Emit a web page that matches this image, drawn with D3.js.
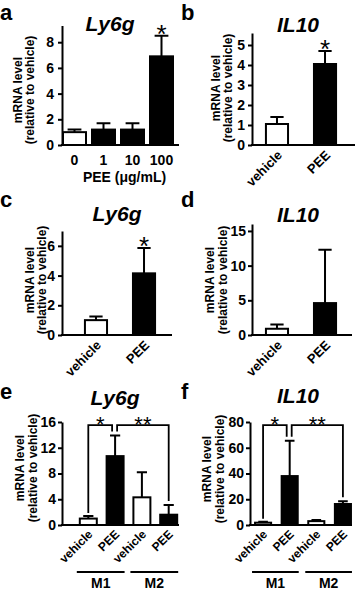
<!DOCTYPE html>
<html>
<head>
<meta charset="utf-8">
<script src="https://cdn.jsdelivr.net/npm/d3@7"></script>
<style>
  body { margin: 0; background: #fff; }
  svg { display: block; font-family: "Liberation Sans", Arial, sans-serif; }
</style>
</head>
<body>
<svg id="chart" width="358" height="590"></svg>
<script>
// Data (mean and SD, relative to vehicle)
const aCategories = ["0", "1", "10", "100"];
const aMeans = [1.0, 1.2, 1.2, 6.9];
const aSD = [0.2, 0.5, 0.5, 1.6];
const aTicks = [0, 2, 4, 6, 8];

const bCategories = ["vehicle", "PEE"];
const bMeans = [1.05, 4.05];
const bSD = [0.35, 0.65];
const bTicks = [0, 1, 2, 3, 4, 5];

const cCategories = ["vehicle", "PEE"];
const cMeans = [1.0, 4.15];
const cSD = [0.25, 1.7];
const cTicks = [0, 2, 4, 6];

const dCategories = ["vehicle", "PEE"];
const dMeans = [0.9, 4.6];
const dSD = [0.6, 7.7];
const dTicks = [0, 5, 10, 15];

const eCategories = ["vehicle", "PEE", "vehicle", "PEE"];
const eGroups = ["M1", "M1", "M2", "M2"];
const eMeans = [1.0, 10.7, 4.3, 1.6];
const eSD = [0.4, 3.2, 3.9, 1.5];
const eTicks = [0, 4, 8, 12, 16];

const fCategories = ["vehicle", "PEE", "vehicle", "PEE"];
const fGroups = ["M1", "M1", "M2", "M2"];
const fMeans = [1.8, 38, 3.0, 16.3];
const fSD = [0.7, 27.5, 0.8, 2.2];
const fTicks = [0, 20, 40, 60, 80];

// significance: single stars above bars, brackets between bars
const aStars = [3];
const bStars = [1];
const cStars = [1];
const eBrackets = [[0, 1, "*"], [1, 3, "**"]];
const fBrackets = [[0, 1, "*"], [1, 3, "**"]];

const yLabel1 = "mRNA level";
const yLabel2 = "(relative to vehicle)";

const svg = d3.select("#chart");

// layout for each panel
const panels = [
    { letter: "a", lx: 0, ly: 20, title: "Ly6g", tx: 110, ty: 31,
      cats: aCategories, means: aMeans, sd: aSD, ticks: aTicks, stars: aStars,
      axisX: 62, xEnd: 179, y0: 145, yMax: 9.3, yTop: 25.5, tickPad: 4,
      band: [57, 179], pad: 0.207, labX: [22, 34], labY: 90, rotate: false,
      xTitle: "PEE (\u03bcg/mL)" },
    { letter: "b", lx: 181, ly: 20, title: "IL10", tx: 298, ty: 32,
      cats: bCategories, means: bMeans, sd: bSD, ticks: bTicks, stars: bStars,
      axisX: 252, xEnd: 355, y0: 145, yMax: 5.6, yTop: 33, tickPad: 3,
      band: [240, 362], pad: 0.54, labX: [220, 232], labY: 88, rotate: true },
    { letter: "c", lx: 0, ly: 207, title: "Ly6g", tx: 117, ty: 221,
      cats: cCategories, means: cMeans, sd: cSD, ticks: cTicks, stars: cStars,
      axisX: 62, xEnd: 172, y0: 335, yMax: 7, yTop: 231, tickPad: 3,
      band: [59, 181], pad: 0.54, labX: [34, 46], labY: 280, rotate: true },
    { letter: "d", lx: 181, ly: 207, title: "IL10", tx: 298, ty: 222,
      cats: dCategories, means: dMeans, sd: dSD, ticks: dTicks, stars: [],
      axisX: 252, xEnd: 352, y0: 335, yMax: 16, yTop: 224, tickPad: 2,
      band: [240, 362], pad: 0.54, labX: [214, 227], labY: 280, rotate: true },
    { letter: "e", lx: 0, ly: 399, title: "Ly6g", tx: 115, ty: 405,
      cats: eCategories, groups: eGroups, means: eMeans, sd: eSD, ticks: eTicks,
      stars: [], brackets: eBrackets, bracketVal: 15.5, starSize: 22,
      axisX: 62, xEnd: 179, y0: 525, yMax: 16, yTop: 422, tickPad: 2,
      band: [70, 187], pad: 0.366, labX: [24, 37], labY: 468, rotate: true, small: true },
    { letter: "f", lx: 181, ly: 399, title: "IL10", tx: 298, ty: 403,
      cats: fCategories, groups: fGroups, means: fMeans, sd: fSD, ticks: fTicks,
      stars: [], brackets: fBrackets, bracketVal: 77.5, starSize: 22,
      axisX: 250, xEnd: 352, y0: 525, yMax: 80, yTop: 422, tickPad: 2,
      band: [244.5, 361.5], pad: 0.396, labX: [211, 224], labY: 469, rotate: true, small: true }
];

panels.forEach(p => drawPanel(p));

function isControl(cat) {
    return cat === "vehicle" || cat === "0";
}

function drawPanel(p) {
    const g = svg.append("g");
    const idx = p.cats.map((c, i) => i);

    // scales
    const x = d3.scaleBand().domain(idx).range(p.band).padding(p.pad);
    const y = d3.scaleLinear().domain([0, p.yMax]).range([p.y0, p.yTop]);
    const bw = x.bandwidth();
    const cx = i => x(i) + bw / 2;

    // panel letter and title
    g.append("text")
        .attr("x", p.lx).attr("y", p.ly)
        .style("font-size", "22px").style("font-weight", "bold")
        .text(p.letter);
    g.append("text")
        .attr("x", p.tx).attr("y", p.ty)
        .attr("text-anchor", "middle")
        .style("font-size", "21px").style("font-weight", "bold").style("font-style", "italic")
        .text(p.title);

    // bars
    g.selectAll(".bar")
        .data(idx)
        .join("rect")
        .attr("class", "bar")
        .attr("x", i => x(i))
        .attr("y", i => y(p.means[i]))
        .attr("width", bw)
        .attr("height", i => p.y0 - y(p.means[i]))
        .attr("fill", i => isControl(p.cats[i]) ? "#fff" : "#000")
        .attr("stroke", "#000")
        .attr("stroke-width", 2);

    // error bars (upper half only)
    const capW = bw * 0.6;
    g.selectAll(".err")
        .data(idx)
        .join("path")
        .attr("class", "err")
        .attr("fill", "none")
        .attr("stroke", "#000")
        .attr("stroke-width", 2)
        .attr("d", i => {
            const top = y(p.means[i] + p.sd[i]);
            return `M${cx(i)},${y(p.means[i])}V${top}M${cx(i) - capW / 2},${top}H${cx(i) + capW / 2}`;
        });

    // y axis
    const yAxis = g.append("g")
        .attr("transform", `translate(${p.axisX},0)`)
        .call(d3.axisLeft(y).tickValues(p.ticks).tickFormat(d3.format("d"))
            .tickSize(4).tickPadding(p.tickPad).tickSizeOuter(0));
    yAxis.attr("font-family", null).attr("font-size", null);
    yAxis.select(".domain").attr("stroke-width", 2);
    yAxis.selectAll(".tick line").attr("stroke-width", 2);
    yAxis.selectAll("text")
        .style("font-size", "14px").style("font-weight", "bold")
        .attr("fill", "#000");

    // x baseline
    g.append("line")
        .attr("x1", p.axisX - 1).attr("x2", p.xEnd)
        .attr("y1", p.y0).attr("y2", p.y0)
        .attr("stroke", "#000").attr("stroke-width", 2);

    // x labels
    const xAxis = g.append("g")
        .attr("transform", `translate(0,${p.y0})`)
        .call(d3.axisBottom(x).tickSize(0).tickFormat(i => p.cats[i]));
    xAxis.attr("font-family", null).attr("font-size", null);
    xAxis.select(".domain").remove();
    const xt = xAxis.selectAll("text")
        .attr("fill", "#000")
        .style("font-weight", "bold");
    if (p.rotate) {
        xt.attr("x", 0).attr("y", 0).attr("dy", 0)
            .attr("text-anchor", "end")
            .attr("transform", p.small ? "translate(5,10) rotate(-45)" : "translate(6,11) rotate(-45)")
            .style("font-size", p.small ? "12px" : "13px");
    } else {
        xt.attr("y", 20).attr("dy", 0).style("font-size", "14px");
    }
    if (p.xTitle) {
        g.append("text")
            .attr("x", (p.axisX + p.xEnd) / 2 + 4).attr("y", p.y0 + 37)
            .attr("text-anchor", "middle")
            .style("font-size", "14px").style("font-weight", "bold")
            .text(p.xTitle);
    }

    // y axis title (two lines)
    [yLabel1, yLabel2].forEach((t, k) => {
        g.append("text")
            .attr("transform", `translate(${p.labX[k]},${p.labY}) rotate(-90)`)
            .attr("text-anchor", "middle")
            .style("font-size", "12px").style("font-weight", "bold")
            .text(t);
    });

    // single stars
    p.stars.forEach(i => {
        g.append("text")
            .attr("x", cx(i)).attr("y", y(p.means[i] + p.sd[i]) + 7)
            .attr("text-anchor", "middle")
            .style("font-size", "26px")
            .text("*");
    });

    // groups under the x labels
    if (p.groups) {
        const names = Array.from(new Set(p.groups));
        names.forEach(name => {
            const members = idx.filter(i => p.groups[i] === name);
            const x1 = x(members[0]) - 3;
            const x2 = x(members[members.length - 1]) + bw + 1;
            g.append("line")
                .attr("x1", x1).attr("x2", x2)
                .attr("y1", 572).attr("y2", 572)
                .attr("stroke", "#000").attr("stroke-width", 2);
            g.append("text")
                .attr("x", (x1 + x2) / 2).attr("y", 588)
                .attr("text-anchor", "middle")
                .style("font-size", "14px").style("font-weight", "bold")
                .text(name);
        });
    }

    // brackets
    if (p.brackets) {
        const by = y(p.bracketVal);
        p.brackets.forEach(([i, j, label], k) => {
            const xa = k === 0 ? cx(i) : cx(i) + 2;
            const xb = k === 0 ? cx(j) - 3 : cx(j);
            const ya = y(p.means[i] + p.sd[i]) - (k === 0 ? 3 : 4);
            const yb = y(p.means[j] + p.sd[j]) - 4;
            g.append("path")
                .attr("fill", "none").attr("stroke", "#000").attr("stroke-width", 1.8)
                .attr("d", `M${xa},${ya}V${by}H${xb}V${yb}`);
            g.append("text")
                .attr("x", (xa + xb) / 2).attr("y", by + 7)
                .attr("text-anchor", "middle")
                .style("font-size", p.starSize + "px")
                .text(label);
        });
    }
}
</script>
</body>
</html>
